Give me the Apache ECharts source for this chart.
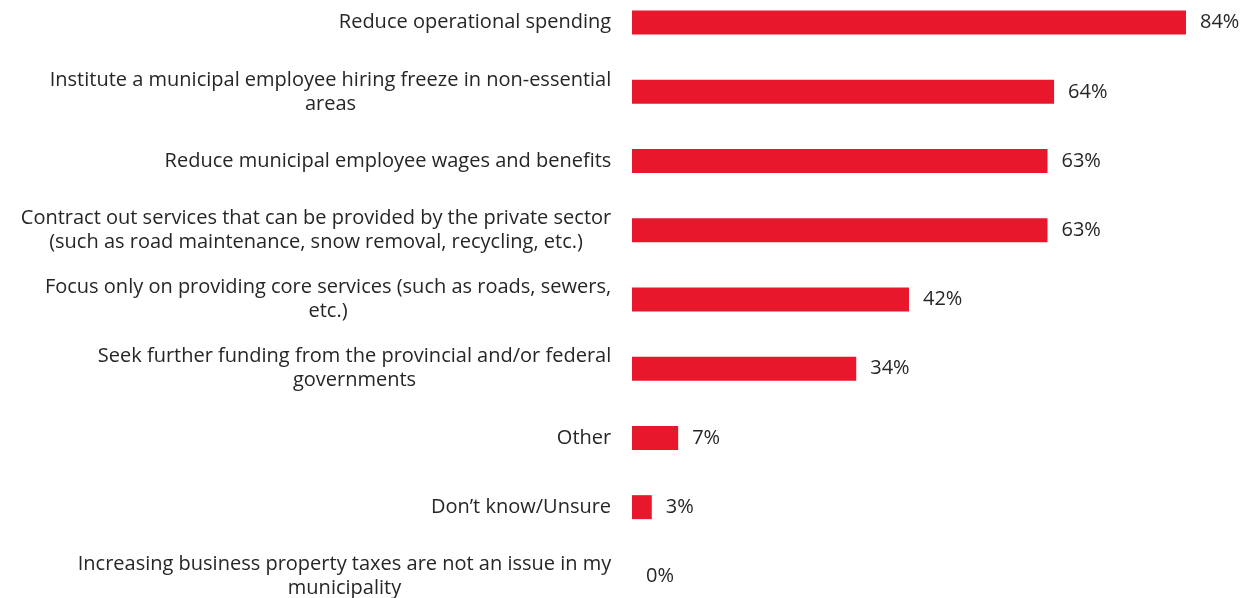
<!DOCTYPE html>
<html>
<head>
<meta charset="utf-8">
<script src="https://cdn.jsdelivr.net/npm/echarts@6/dist/echarts.min.js"></script>
<style>
html,body{margin:0;padding:0;background:#fff;}
#chart{width:1253px;height:598px;}
</style>
</head>
<body>
<div id="chart"></div>
<script>
const categories = [
  'Reduce operational spending',
  'Institute a municipal employee hiring freeze in non-essential\nareas',
  'Reduce municipal employee wages and benefits',
  'Contract out services that can be provided by the private sector\n(such as road maintenance, snow removal, recycling, etc.)',
  'Focus only on providing core services (such as roads, sewers,\netc.)',
  'Seek further funding from the provincial and/or federal\ngovernments',
  'Other',
  'Don\u2019t know/Unsure',
  'Increasing business property taxes are not an issue in my\nmunicipality'
];
const values = [84, 64, 63, 63, 42, 34, 7, 3, 0];

const FONT = 'Open Sans';
const FSIZE = 20;
const ctx = document.createElement('canvas').getContext('2d');
ctx.font = FSIZE + 'px "' + FONT + '"';
const rich = {};
categories.forEach((c, i) => {
  const lines = c.split('\n');
  const w = Math.max(...lines.map(l => ctx.measureText(l).width));
  rich['r' + i] = { width: Math.ceil(w) + 1, align: 'center', fontFamily: FONT, fontSize: FSIZE, color: '#262626', lineHeight: 24 };
});

const chart = echarts.init(document.getElementById('chart'));
chart.setOption({
  backgroundColor: '#ffffff',
  animation: false,
  grid: { left: 632, right: 67, top: -12, bottom: -13, containLabel: false, outerBoundsMode: 'none' },
  xAxis: { type: 'value', min: 0, max: 84, show: false },
  yAxis: {
    type: 'category', data: categories, inverse: true,
    axisLine: { show: false }, axisTick: { show: false },
    axisLabel: {
      margin: 20, fontFamily: FONT, fontSize: FSIZE, color: '#262626',
      align: 'right', lineHeight: 24, rich: rich,
      formatter: function (val, idx) {
        return val.split('\n').map(l => '{r' + idx + '|' + l + '}').join('\n');
      }
    }
  },
  series: [{
    type: 'bar', data: values, barWidth: 24,
    itemStyle: { color: '#E8172C' },
    label: {
      show: true, position: 'right', distance: 14,
      formatter: '{c}%', fontFamily: FONT, fontSize: FSIZE, color: '#262626'
    }
  }]
});
</script>
</body>
</html>
